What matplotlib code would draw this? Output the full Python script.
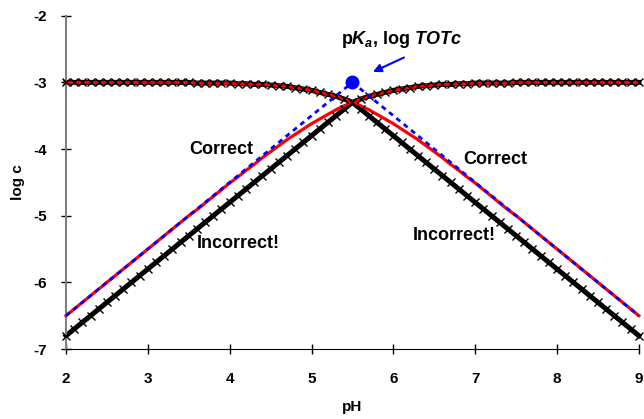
import matplotlib
matplotlib.use("Agg")
import matplotlib.pyplot as plt

plt.rcParams["font.family"] = ["Liberation Sans", "DejaVu Sans"]
plt.rcParams["font.weight"] = "bold"
plt.rcParams["axes.unicode_minus"] = False
plt.rcParams["mathtext.fontset"] = "custom"
plt.rcParams["mathtext.rm"] = "Liberation Sans:bold"
plt.rcParams["mathtext.it"] = "Liberation Sans:bold:italic"
plt.rcParams["mathtext.bf"] = "Liberation Sans:bold"

# pH grid of the plotted points
ph = [2.0, 2.1, 2.2, 2.3, 2.4, 2.5, 2.6, 2.7, 2.8, 2.9,
      3.0, 3.1, 3.2, 3.3, 3.4, 3.5, 3.6, 3.7, 3.8, 3.9,
      4.0, 4.1, 4.2, 4.3, 4.4, 4.5, 4.6, 4.7, 4.8, 4.9,
      5.0, 5.1, 5.2, 5.3, 5.4, 5.5, 5.6, 5.7, 5.8, 5.9,
      6.0, 6.1, 6.2, 6.3, 6.4, 6.5, 6.6, 6.7, 6.8, 6.9,
      7.0, 7.1, 7.2, 7.3, 7.4, 7.5, 7.6, 7.7, 7.8, 7.9,
      8.0, 8.1, 8.2, 8.3, 8.4, 8.5, 8.6, 8.7, 8.8, 8.9, 9.0]

top_left = ([-3.00] * 16 + [-3.01] * 5 +
            [-3.02, -3.02, -3.03, -3.03, -3.04, -3.05, -3.06, -3.08,
             -3.10, -3.12, -3.15, -3.18, -3.21, -3.25, -3.30])
top_right = ([-3.30, -3.25, -3.21, -3.18, -3.15, -3.12, -3.10, -3.08,
              -3.06, -3.05, -3.04, -3.03, -3.03, -3.02, -3.02] +
             [-3.01] * 5 + [-3.00] * 16)

# log[HA] / log[A-], correct
ha_correct = top_left[:-1] + [
    -3.30, -3.35, -3.41, -3.48, -3.55, -3.62, -3.70, -3.78, -3.86, -3.95,
    -4.04, -4.13, -4.23, -4.32, -4.42, -4.51, -4.61, -4.71, -4.81, -4.91,
    -5.00, -5.10, -5.20, -5.30, -5.40, -5.50, -5.60, -5.70, -5.80, -5.90,
    -6.00, -6.10, -6.20, -6.30, -6.40, -6.50]
a_correct = [
    -6.50, -6.40, -6.30, -6.20, -6.10, -6.00, -5.90, -5.80, -5.70, -5.60,
    -5.50, -5.40, -5.30, -5.20, -5.10, -5.00, -4.91, -4.81, -4.71, -4.61,
    -4.51, -4.42, -4.32, -4.23, -4.13, -4.04, -3.95, -3.86, -3.78, -3.70,
    -3.62, -3.55, -3.48, -3.41, -3.35] + top_right

# log[HA] / log[A-], incorrect
ha_wrong = top_left[:-1] + [
    -3.30, -3.40, -3.50, -3.60, -3.70, -3.80, -3.90, -4.00, -4.10, -4.20,
    -4.30, -4.40, -4.50, -4.60, -4.70, -4.80, -4.90, -5.00, -5.10, -5.20,
    -5.30, -5.40, -5.50, -5.60, -5.70, -5.80, -5.90, -6.00, -6.10, -6.20,
    -6.30, -6.40, -6.50, -6.60, -6.70, -6.80]
a_wrong = [
    -6.80, -6.70, -6.60, -6.50, -6.40, -6.30, -6.20, -6.10, -6.00, -5.90,
    -5.80, -5.70, -5.60, -5.50, -5.40, -5.30, -5.20, -5.10, -5.00, -4.90,
    -4.80, -4.70, -4.60, -4.50, -4.40, -4.30, -4.20, -4.10, -4.00, -3.90,
    -3.80, -3.70, -3.60, -3.50, -3.40] + top_right

# asymptotes through the system point
asym_left_ph = [2.0, 5.5]
asym_left = [-6.5, -3.0]
asym_right_ph = [5.5, 9.0]
asym_right = [-3.0, -6.5]

pka = 5.5
log_tot = -3.0

fig = plt.figure(figsize=(6.44, 4.19), dpi=100)
ax = fig.add_axes([0.1025, 0.167, 0.8895, 0.7955])

for y in (ha_wrong, a_wrong):
    ax.plot(ph, y, color="black", lw=3.6, zorder=2, clip_on=False)
for y in (ha_correct, a_correct):
    ax.plot(ph, y, color="red", lw=2.3, zorder=3, clip_on=False)
for y in (ha_wrong, a_wrong):
    ax.plot(ph, y, ls="none", marker="x", ms=5.5, mew=1.0, color="black",
            zorder=4, clip_on=False)
ax.plot(asym_left_ph, asym_left, color="blue", lw=2, ls=(0, (1.8, 1.6)), zorder=5)
ax.plot(asym_right_ph, asym_right, color="blue", lw=2, ls=(0, (1.8, 1.6)), zorder=5)

ax.plot([pka], [log_tot], "o", color="blue", ms=9, zorder=6)
ax.annotate("", xy=(5.72, -2.86), xytext=(6.16, -2.61),
            arrowprops=dict(arrowstyle="-|>", color="blue", lw=1.5,
                            mutation_scale=12))
ax.text(6.1, -2.35, r"p$K_a$, log $TOTc$",
        ha="center", va="center", fontsize=13, fontweight="bold")

ax.text(3.9, -4.01, "Correct", ha="center", va="center", fontsize=13, fontweight="bold")
ax.text(7.24, -4.15, "Correct", ha="center", va="center", fontsize=13, fontweight="bold")
ax.text(4.1, -5.42, "Incorrect!", ha="center", va="center", fontsize=13, fontweight="bold")
ax.text(6.74, -5.29, "Incorrect!", ha="center", va="center", fontsize=13, fontweight="bold")

ax.set_xlim(2, 9)
ax.set_ylim(-7, -2)
ax.set_xticks([2, 3, 4, 5, 6, 7, 8, 9])
ax.set_yticks([-7, -6, -5, -4, -3, -2])
ax.tick_params(direction="inout", length=7, width=1, labelsize=11)
ax.tick_params(axis="x", pad=13)
ax.tick_params(axis="y", pad=10)
for lab in ax.get_xticklabels() + ax.get_yticklabels():
    lab.set_fontweight("bold")
ax.spines["top"].set_visible(False)
ax.spines["right"].set_visible(False)
ax.spines["left"].set_color("#808080")
ax.spines["left"].set_linewidth(1.5)
ax.spines["bottom"].set_color("black")
ax.set_xlabel("pH", fontsize=11, fontweight="bold", labelpad=10)
ax.set_ylabel("log c", fontsize=11, fontweight="bold", labelpad=6)

fig.savefig("out.png", dpi=100)
